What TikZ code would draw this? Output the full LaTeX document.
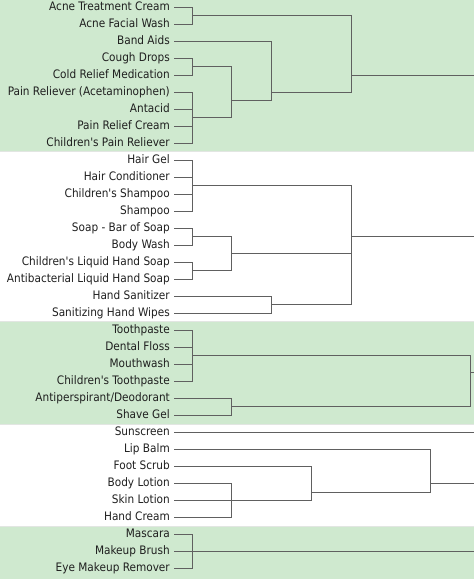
\documentclass[tikz,border=0pt]{standalone}
\usepackage{fontspec}
\setmainfont{DejaVu Sans Condensed}
\definecolor{bandgreen}{RGB}{207,233,207}
\definecolor{bandedge}{RGB}{226,230,226}
\definecolor{linkgray}{RGB}{96,96,96}
\tikzset{
  leaf/.style={anchor=east,inner xsep=4pt,inner ysep=0pt,text=black!88,
    font=\fontsize{11.7}{13}\selectfont,text height=1.5ex,text depth=.25ex},
  link/.style={draw=linkgray,line width=1pt}
}
\begin{document}
\begin{tikzpicture}[x=1pt,y=-17pt]
\useasboundingbox (0,-0.441) rectangle (474,33.618);
% bands
\fill[bandgreen] (0,-0.441) rectangle (474,8.5);
\fill[bandgreen] (0,18.5) rectangle (474,24.5);
\fill[bandgreen] (0,30.5) rectangle (474,33.618);
\foreach \y in {8.5,18.5,24.5,30.5} \draw[bandedge,line width=1pt] (0,\y) -- (474,\y);
% leaves
\foreach \n/\t [count=\i from 0] in {acneC/Acne Treatment Cream,acneW/Acne Facial Wash,
  band/Band Aids,cough/Cough Drops,coldMed/Cold Relief Medication,
  painA/Pain Reliever (Acetaminophen),antacid/Antacid,painC/Pain Relief Cream,
  kidPain/Children\textquotesingle s Pain Reliever,hairG/Hair Gel,hairC/Hair Conditioner,
  kidSham/Children\textquotesingle s Shampoo,sham/Shampoo,soapB/Soap - Bar of Soap,
  bodyW/Body Wash,kidSoap/Children\textquotesingle s Liquid Hand Soap,
  antiSoap/Antibacterial Liquid Hand Soap,sanit/Hand Sanitizer,wipes/Sanitizing Hand Wipes,
  tooth/Toothpaste,floss/Dental Floss,mouth/Mouthwash,kidTooth/Children\textquotesingle s Toothpaste,
  deo/{Antiperspirant/Deodorant},shave/Shave Gel,sun/Sunscreen,lip/Lip Balm,foot/Foot Scrub,
  bodyL/Body Lotion,skinL/Skin Lotion,handC/Hand Cream,mascara/Mascara,brush/Makeup Brush,
  eyeRem/Eye Makeup Remover}
  \node[leaf] (\n) at (174,\i) {\t};
% joins
\coordinate (jAcne) at (192,0.5);
\coordinate (jCold) at (192,3.5);
\coordinate (jPain) at (192,6.5);
\coordinate (jMed) at (231.75,5.5);
\coordinate (jBand) at (271.5,5);
\coordinate (jTop) at (351,4);
\coordinate (endA) at (474,4);
\coordinate (jHair) at (192,10.5);
\coordinate (jSoap) at (192,13.5);
\coordinate (jLiquid) at (192,15.5);
\coordinate (jWash) at (231.75,14.5);
\coordinate (jHand) at (271.5,17.5);
\coordinate (jClean) at (351,13.5);
\coordinate (endB) at (474,13.5);
\coordinate (jTeeth) at (192,20.5);
\coordinate (jShave) at (231.75,23.5);
\coordinate (jOral) at (470.25,21.5);
\coordinate (endC) at (474,21.5);
\coordinate (endSun) at (474,25);
\coordinate (jLotion) at (231.75,29);
\coordinate (jFoot) at (311.25,28.5);
\coordinate (jLip) at (430.5,28);
\coordinate (endD) at (474,28);
\coordinate (jEye) at (192,32);
\coordinate (endE) at (474,32);
% links
\foreach \c/\p in {acneC.east/jAcne,acneW.east/jAcne,cough.east/jCold,coldMed.east/jCold,
  painA.east/jPain,antacid.east/jPain,painC.east/jPain,kidPain.east/jPain,
  jCold/jMed,jPain/jMed,band.east/jBand,jMed/jBand,jAcne/jTop,jBand/jTop,jTop/endA,
  hairG.east/jHair,hairC.east/jHair,kidSham.east/jHair,sham.east/jHair,
  soapB.east/jSoap,bodyW.east/jSoap,kidSoap.east/jLiquid,antiSoap.east/jLiquid,
  jSoap/jWash,jLiquid/jWash,sanit.east/jHand,wipes.east/jHand,
  jHair/jClean,jWash/jClean,jHand/jClean,jClean/endB,
  tooth.east/jTeeth,floss.east/jTeeth,mouth.east/jTeeth,kidTooth.east/jTeeth,
  deo.east/jShave,shave.east/jShave,jTeeth/jOral,jShave/jOral,jOral/endC,
  sun.east/endSun,bodyL.east/jLotion,skinL.east/jLotion,handC.east/jLotion,
  foot.east/jFoot,jLotion/jFoot,lip.east/jLip,jFoot/jLip,jLip/endD,
  mascara.east/jEye,brush.east/jEye,eyeRem.east/jEye,jEye/endE}
  \draw[link] (\c) -| (\p);
\end{tikzpicture}
\end{document}
